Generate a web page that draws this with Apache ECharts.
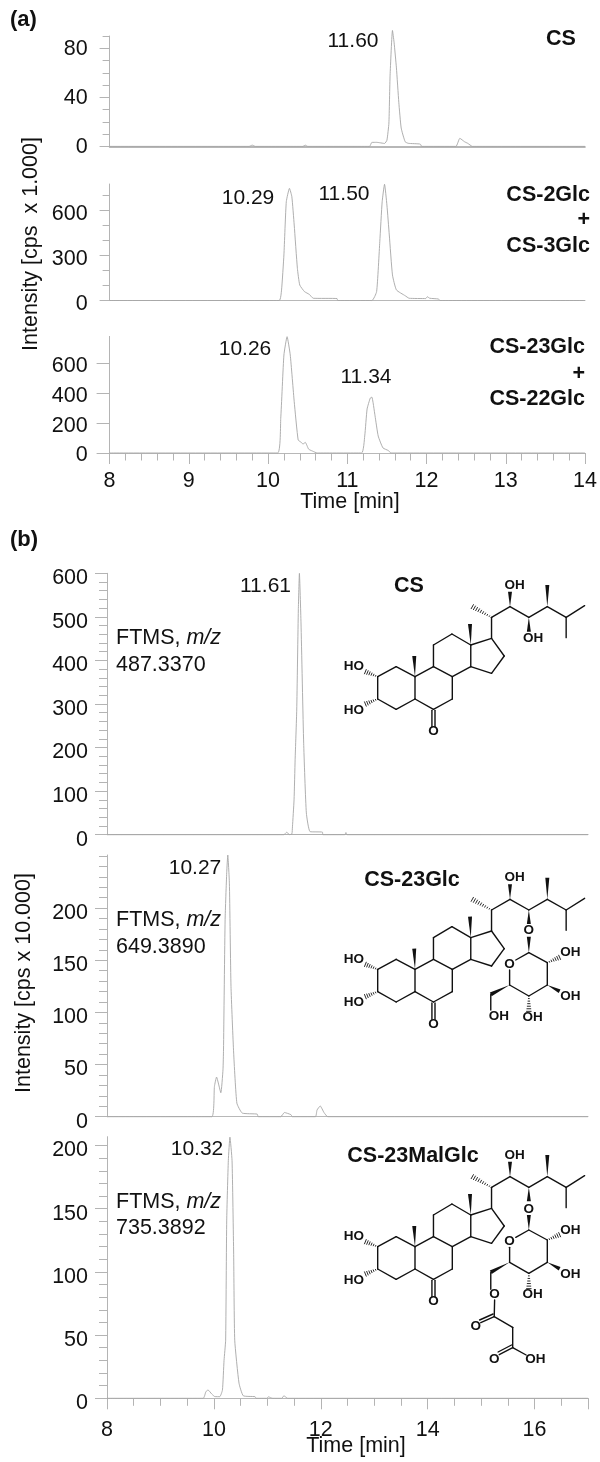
<!DOCTYPE html>
<html><head><meta charset="utf-8">
<style>html,body{margin:0;padding:0;background:#fff}#c{width:600px;height:1462px}</style>
<script src="https://cdn.jsdelivr.net/npm/echarts@6/dist/echarts.min.js"></script>
</head><body><div id="c"></div>
<script>
// ---------- chromatogram values: [time, intensity] ----------
const traceA1 = [[8,0],[9.76,0],[9.8,1],[9.84,0],[10.44,0],[10.47,1],[10.5,0],[11.28,0],[11.31,3.3],[11.37,3.3],[11.41,3],[11.47,2.4],[11.5,5],[11.525,19],[11.54,58],[11.57,94.5],[11.59,85],[11.62,64],[11.65,36],[11.68,15],[11.73,3.8],[11.77,2.5],[11.92,1.9],[11.94,0],[12.37,0],[12.42,6.6],[12.48,3.8],[12.52,2.5],[12.58,0],[14,0]];
const traceA2 = [[8,0],[10.14,0],[10.17,70],[10.2,303],[10.23,657],[10.27,746],[10.3,691],[10.33,502],[10.37,214],[10.4,103],[10.46,59],[10.52,41],[10.57,15],[10.87,13],[10.88,0],[11.31,0],[11.37,59],[11.41,391],[11.44,657],[11.47,773],[11.5,635],[11.53,436],[11.57,170],[11.62,70],[11.73,32],[11.78,15],[11.99,13],[12.01,25],[12.04,15],[12.15,10],[12.17,0],[14,0]];
const traceA3 = [[8,0],[10.12,0],[10.16,232],[10.2,656],[10.24,779],[10.28,656],[10.33,344],[10.38,87],[10.42,71],[10.44,60],[10.47,71],[10.51,27],[10.53,20],[10.56,13],[10.62,0],[11.18,0],[11.22,114],[11.25,295],[11.29,368],[11.31,374],[11.35,249],[11.39,114],[11.45,34],[11.52,16],[11.55,0],[14,0]];
const traceB1 = [[8,0],[11.31,0],[11.36,5.5],[11.42,0],[11.46,2],[11.47,18],[11.5,80],[11.52,172],[11.55,286],[11.58,516],[11.6,600],[11.63,486],[11.68,210],[11.73,50],[11.8,7],[12.03,6],[12.04,0],[12.45,0],[12.47,5],[12.49,0],[17,0]];
const traceB2 = [[8,0],[9.96,0],[10.01,29],[10.05,38],[10.13,23],[10.17,45],[10.18,64],[10.21,189],[10.24,234],[10.26,251],[10.29,224],[10.32,125],[10.37,61],[10.43,13],[10.53,3.5],[10.81,2.5],[10.83,0],[11.25,0],[11.32,4],[11.44,2],[11.47,0],[11.9,0],[11.93,6.4],[11.99,10.3],[12.06,4],[12.13,0],[17,0]];
const traceB3 = [[8,0],[9.8,0],[9.85,5.2],[9.89,6.6],[9.96,3.4],[10.02,1.3],[10.11,1.3],[10.16,6.6],[10.19,30],[10.22,46],[10.24,141],[10.27,188],[10.3,206.6],[10.34,188],[10.37,114],[10.39,46],[10.47,12],[10.55,2],[10.77,1.3],[10.79,0],[10.99,0],[11.02,1.2],[11.06,0.5],[11.1,0],[11.27,0],[11.31,2],[11.38,0],[17,0]];

// ---------- tick labels ----------
const ticksA1 = [0,40,80], ticksA2 = [0,300,600], ticksA3 = [0,200,400,600];
const ticksB1 = [0,100,200,300,400,500,600], ticksB2 = [0,50,100,150,200], ticksB3 = [0,50,100,150,200];
const timeTicksA = [8,9,10,11,12,13,14], timeTicksB = [8,10,12,14,16];

function range(a,b,s){const r=[];for(let v=a;v<=b+1e-9;v+=s)r.push(+v.toFixed(3));return r;}

const INK='#111', FONT='"Liberation Sans",Arial,sans-serif', AXC='#b4b4b4', LINE='#a6a6a6', TS=21.5;

const panels = [
 {trace:traceA1, left:109.6, right:585, top:36,  bottom:146.4, ymax:90,  major:ticksA1, minor:range(0,90,10),  len:10, mlen:7, m:22, shift:1, baseW:1.6, baseC:'#a0a0a0'},
 {trace:traceA2, left:109.6, right:585, top:184, bottom:300.5, ymax:775, major:ticksA2, minor:range(0,700,100),len:10, mlen:7, m:22, shift:3.5, baseW:1, baseC:'#b8b8b8'},
 {trace:traceA3, left:109.6, right:585, top:336.4,bottom:453,  ymax:781, major:ticksA3, minor:[],             len:13, mlen:7, m:22, shift:2.5, baseW:1, baseC:'#b8b8b8',
   xmax:14,xMajor:timeTicksA,xMinor:range(8,14,0.2),xLab:timeTicksA,xm:17},
 {trace:traceB1, left:107,   right:588, top:573.3,bottom:834.7,ymax:600, major:ticksB1, minor:range(0,600,20), len:12, mlen:8, m:19, shift:5, baseW:1.2, baseC:'#b0b0b0',xmax:17},
 {trace:traceB2, left:107,   right:588, top:855,  bottom:1116.7,ymax:251,major:ticksB2, minor:range(0,250,10), len:12, mlen:8, m:19, shift:5, baseW:1, baseC:'#b8b8b8',xmax:17},
 {trace:traceB3, left:107,   right:588, top:1136.7,bottom:1398.3,ymax:207,major:ticksB3,minor:range(0,200,10),len:12, mlen:8, m:19, shift:5, baseW:1, baseC:'#b8b8b8',
   xmax:17,xMajor:[8,10,12,14,16,17],xMinor:range(8,17,0.5),xLab:timeTicksB,xm:21}
];

const grid=[],xAxis=[],yAxis=[],series=[];
panels.forEach((p,i)=>{
  grid.push({left:p.left,width:p.right-p.left,top:p.top,height:p.bottom-p.top,containLabel:false});
  const xmax=p.xmax||14, gi=i;
  const xi=xAxis.length, yi=yAxis.length;
  xAxis.push({type:'value',gridIndex:gi,min:8,max:xmax,position:'bottom',splitLine:{show:false},
    axisLine:{show:true,onZero:false,lineStyle:{color:p.baseC,width:p.baseW}},
    axisTick:p.xMajor?{show:true,length:11,customValues:p.xMajor,lineStyle:{color:AXC,width:1}}:{show:false},
    axisLabel:p.xLab?{show:true,customValues:p.xLab,margin:p.xm,color:INK,fontFamily:FONT,fontSize:TS,formatter:v=>String(v),hideOverlap:false}:{show:false}});
  xAxis.push({type:'value',gridIndex:gi,min:8,max:xmax,position:'bottom',splitLine:{show:false},axisLine:{show:false},
    axisTick:p.xMinor?{show:true,length:7.5,customValues:p.xMinor,lineStyle:{color:AXC,width:1}}:{show:false},axisLabel:{show:false}});
  yAxis.push({type:'value',gridIndex:gi,min:0,max:p.ymax,position:'left',splitLine:{show:false},
    axisLine:{show:true,onZero:false,lineStyle:{color:AXC,width:1}},
    axisTick:{show:true,length:p.len,customValues:p.major,lineStyle:{color:AXC,width:1}},
    axisLabel:{show:true,customValues:p.major,margin:p.m,color:INK,fontFamily:FONT,fontSize:TS,verticalAlign:'top',lineHeight:2*p.shift,formatter:v=>String(v),hideOverlap:false}});
  yAxis.push({type:'value',gridIndex:gi,min:0,max:p.ymax,position:'left',splitLine:{show:false},axisLine:{show:false},
    axisTick:{show:p.minor.length>0,length:p.mlen,customValues:p.minor,lineStyle:{color:AXC,width:1}},axisLabel:{show:false}});
  series.push({type:'line',xAxisIndex:xi,yAxisIndex:yi,data:p.trace,showSymbol:false,symbol:'none',smooth:0.15,clip:false,silent:true,
    lineStyle:{color:LINE,width:0.9},z:3});
});

// ---------- annotations ----------
const g=[];
function txt(s,x,y,o={}){
  const size=o.size||TS, weight=o.bold?'bold':'normal';
  g.push({type:'text',silent:true,x,y,rotation:o.rot||0,z:10,style:{text:s,fill:INK,font:weight+' '+size+'px '+FONT,
    align:o.align||'center',verticalAlign:'middle',rich:o.rich}});
}
const italicRich={i:{fontStyle:'italic',fontFamily:FONT,fontSize:TS,fill:INK}};
txt('(a)',10,20,{bold:1,align:'left',size:22}); txt('(b)',10,540,{bold:1,align:'left',size:22});
txt('CS',561,39,{bold:1});
txt('11.60',353,41,{size:21}); txt('10.29',248,198,{size:21}); txt('11.50',344,194,{size:21});
txt('CS-2Glc',590,195,{bold:1,align:'right'}); txt('+',590,220,{bold:1,align:'right'}); txt('CS-3Glc',590,246,{bold:1,align:'right'});
txt('CS-23Glc',585,347.5,{bold:1,align:'right'}); txt('+',585,373.6,{bold:1,align:'right'}); txt('CS-22Glc',585,399,{bold:1,align:'right'});
txt('10.26',245,349,{size:21}); txt('11.34',366,377,{size:21});
txt('Time [min]',350,502);
txt('Intensity [cps  x 1.000]',31.5,244,{rot:Math.PI/2});
txt('11.61',265.5,586,{size:21}); txt('CS',409,586,{bold:1});
txt('FTMS, {i|m/z}',116,638,{align:'left',rich:italicRich}); txt('487.3370',116,665,{align:'left'});
txt('10.27',195,868,{size:21}); txt('CS-23Glc',412,880,{bold:1});
txt('FTMS, {i|m/z}',116,920,{align:'left',rich:italicRich}); txt('649.3890',116,947,{align:'left'});
txt('Intensity [cps x 10.000]',24,983,{rot:Math.PI/2});
txt('10.32',197,1149,{size:21}); txt('CS-23MalGlc',413,1156,{bold:1});
txt('FTMS, {i|m/z}',116,1202,{align:'left',rich:italicRich}); txt('735.3892',116,1228,{align:'left'});
txt('Time [min]',356,1446);

// ---------- chemical structures (illustration, not data) ----------
function structure(base, dy, extra){
  const P=(a,b)=>[a/2.6, base+(b+dy)/3];
  const bond=(a,b)=>g.push({type:'line',silent:true,z:8,shape:{x1:P(...a)[0],y1:P(...a)[1],x2:P(...b)[0],y2:P(...b)[1]},style:{stroke:INK,lineWidth:1.4,lineCap:'round'}});
  const wedge=(a,b)=>{const A=P(...a),B=P(...b),dx=B[0]-A[0],dy2=B[1]-A[1],L=Math.hypot(dx,dy2),nx=-dy2/L*2,ny=dx/L*2;
    g.push({type:'polygon',silent:true,z:8,shape:{points:[A,[B[0]+nx,B[1]+ny],[B[0]-nx,B[1]-ny]]},style:{fill:INK}});};
  const hash=(a,b)=>{const A=P(...a),B=P(...b),dx=B[0]-A[0],dy2=B[1]-A[1],L=Math.hypot(dx,dy2),ux=-dy2/L,uy=dx/L,n=Math.max(5,Math.round(L/2.4));
    for(let k=1;k<=n;k++){const t=k/n,w=0.5+t*2.2,cx=A[0]+dx*t,cy=A[1]+dy2*t;
      g.push({type:'line',silent:true,z:8,shape:{x1:cx-ux*w,y1:cy-uy*w,x2:cx+ux*w,y2:cy+uy*w},style:{stroke:INK,lineWidth:0.9}});}};
  const dbl=(a,b,ox,oy)=>{bond(a,b);bond([a[0]+ox,a[1]+oy],[b[0]+ox,b[1]+oy]);};
  const lab=(s,a,b)=>txt(s,P(a,b)[0],P(a,b)[1],{bold:1,size:13.5});
  const C2=[982,440],C1=[1030,410],C10=[1079,440],C5=[1079,507],C4=[1030,538],C3=[982,507],
        C9=[1127,410],C8=[1176,440],C7=[1176,507],C6=[1127,538],C11=[1127,345],C12=[1175,312],C13=[1224,345],C14=[1224,410],
        C17=[1278,325],C16=[1311,378],C15=[1278,430],C20=[1278,262],C22=[1326,230],C23=[1375,262],C24=[1423,230],C25=[1472,262];
  [[C2,C1],[C1,C10],[C10,C5],[C5,C4],[C4,C3],[C3,C2],[C10,C9],[C9,C8],[C8,C7],[C7,C6],[C6,C5],[C9,C11],[C11,C12],[C12,C13],[C13,C14],[C14,C8],
   [C13,C17],[C17,C16],[C16,C15],[C15,C14],[C17,C20],[C20,C22],[C22,C23],[C23,C24],[C24,C25],[C25,[1520,227]],[C25,[1472,323]]].forEach(b=>bond(...b));
  dbl([1123,541],[1123,590],8,0);
  lab('O',1127,605);
  wedge(C13,[1222,282]); wedge(C10,[1077,378]); wedge(C22,[1326,185]); wedge(C24,[1423,165]);
  hash(C20,[1228,230]); hash(C2,[950,425]); hash(C3,[950,522]);
  lab('HO',920,410); lab('HO',920,540); lab('OH',1338,165);
  extra({bond,wedge,hash,dbl,lab,C23});
}
structure(530,0,({wedge,lab,C23})=>{wedge(C23,[1375,305]);lab('OH',1386,325);});
function sugar(s,C23,oy,r){
  s.wedge(C23,[1375,C23[1]+42]); s.lab('O',1375,oy);
  const C1p=[1375,r],C5p=[1325,r+97],C4p=[1375,r+130],C3p=[1423,r+97],C2p=[1423,r+30];
  s.wedge(C1p,[1375,oy+18]);
  s.bond(C1p,[1341,r+22]); s.bond([1325,r+52],C5p); s.bond(C5p,C4p); s.bond(C4p,C3p); s.bond(C3p,C2p); s.bond(C2p,C1p);
  s.lab('O',1325,r+34);
  s.hash(C2p,[1455,r+14]); s.lab('OH',1483,r);
  s.wedge(C3p,[1455,r+116]); s.lab('OH',1483,r+132);
  s.hash(C4p,[1375,r+176]); s.lab('OH',1385,r+194);
  return C5p;
}
structure(840,-52,(s)=>{
  const C5p=sugar(s,s.C23,324,390);
  s.wedge(C5p,[1276,515]); s.bond([1276,515],[1276,562]); s.lab('OH',1297,582);
});
structure(1120,-60,(s)=>{
  const C5p=sugar(s,s.C23,327,390);
  s.wedge(C5p,[1276,517]); s.bond([1276,517],[1276,568]);
  s.lab('O',1286,583); s.bond([1286,600],[1285,650]);
  s.dbl([1285,650],[1250,668],-3,-8); s.lab('O',1237,680);
  s.bond([1285,650],[1333,682]); s.bond([1333,682],[1333,743]);
  s.dbl([1333,743],[1298,764],-3,-8); s.lab('O',1285,777);
  s.bond([1333,743],[1368,765]); s.lab('OH',1392,778);
});

const chart=echarts.init(document.getElementById('c'),null,{renderer:'canvas'});
chart.setOption({animation:false,backgroundColor:'#fff',grid,xAxis,yAxis,series,graphic:{elements:g}});
</script></body></html>
